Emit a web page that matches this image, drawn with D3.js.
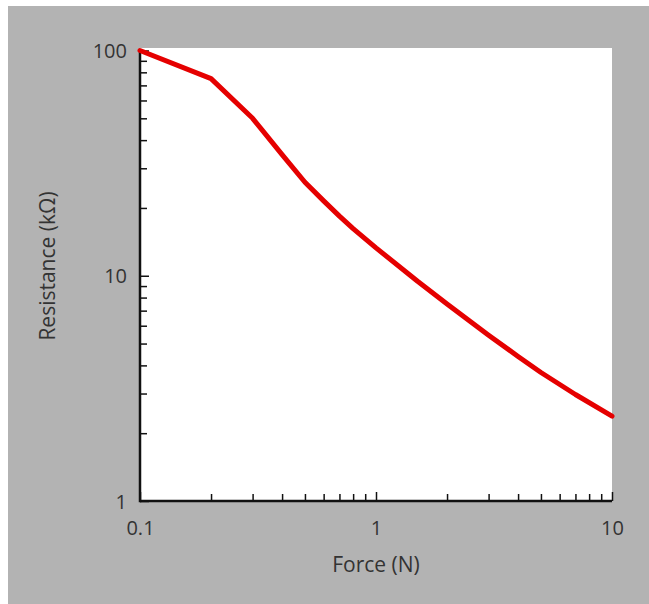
<!DOCTYPE html>
<html>
<head>
<meta charset="utf-8">
<script src="https://cdn.jsdelivr.net/npm/d3@7"></script>
<style>
  html, body { margin: 0; padding: 0; background: #ffffff; }
  svg { display: block; }
  text { font-family: "Open Sans", "Noto Sans", sans-serif; fill: #333; }
</style>
</head>
<body>
<svg id="chart" width="649" height="604"></svg>
<script>
// Data
const force = [0.1, 0.2, 0.3, 0.4, 0.5, 0.6, 0.7, 0.8, 1, 1.5, 2, 3, 4, 5, 7, 10];
const resistance = [100, 75, 50, 34.5, 26, 21.5, 18.4, 16.2, 13.3, 9.45, 7.5, 5.45, 4.38, 3.72, 2.97, 2.38];
const xTickValues = [0.1, 1, 10];
const xTickLabels = ["0.1", "1", "10"];
const yTickValues = [1, 10, 100];
const yTickLabels = ["1", "10", "100"];
const xTitle = "Force (N)";
const yTitle = "Resistance (k\u03A9)";

const svg = d3.select("#chart");
const W = 649, H = 604;

// gray background panel
svg.append("rect").attr("x", 8).attr("y", 6).attr("width", W - 8).attr("height", H - 6).attr("fill", "#b3b3b3");

const left = 140, right = 612, yTop = 50.5, yBottom = 501;

// white plot area
svg.append("rect").attr("x", left).attr("y", 48).attr("width", right - left).attr("height", yBottom - 48).attr("fill", "#ffffff");

const x = d3.scaleLog().domain([0.1, 10]).range([left, right]);
const y = d3.scaleLog().domain([1, 100]).range([yBottom, yTop]);

// minor ticks
const minorX = [];
for (const d of [0.1, 1]) for (let k = 2; k <= 9; k++) minorX.push(d * k);
const minorY = [];
for (const d of [1, 10]) for (let k = 2; k <= 9; k++) minorY.push(d * k);

const gx = svg.append("g").attr("transform", `translate(0,${yBottom})`);
gx.call(d3.axisBottom(x).tickValues(minorX).tickSizeInner(-7).tickSizeOuter(0).tickFormat(""));
gx.call(g => g.select(".domain").remove());
const gxMaj = svg.append("g").attr("transform", `translate(0,${yBottom})`);
gxMaj.call(d3.axisBottom(x).tickValues(xTickValues).tickSizeInner(-9).tickSizeOuter(0)
  .tickFormat((d, i) => xTickLabels[i]));
gxMaj.select(".domain").remove();
gxMaj.selectAll(".tick text").attr("y", 20).attr("dy", "0.71em").style("font-size", "20px").style("fill", "#333");

const gy = svg.append("g").attr("transform", `translate(${left},0)`);
gy.call(d3.axisLeft(y).tickValues(minorY).tickSizeInner(-7).tickSizeOuter(0).tickFormat(""));
gy.select(".domain").remove();
const gyMaj = svg.append("g").attr("transform", `translate(${left},0)`);
gyMaj.call(d3.axisLeft(y).tickValues(yTickValues).tickSizeInner(-9).tickSizeOuter(0)
  .tickFormat((d, i) => yTickLabels[i]));
gyMaj.select(".domain").remove();
gyMaj.selectAll(".tick text").attr("x", -13).attr("dy", "0.35em").style("font-size", "20px").style("fill", "#333");

svg.selectAll(".tick line").attr("stroke", "#111").attr("stroke-width", 1.5);

// axis lines
svg.append("line").attr("x1", left).attr("x2", right).attr("y1", yBottom).attr("y2", yBottom)
  .attr("stroke", "#111").attr("stroke-width", 2.5);
svg.append("line").attr("x1", left).attr("x2", left).attr("y1", yTop).attr("y2", yBottom + 1.2)
  .attr("stroke", "#111").attr("stroke-width", 2.5);

// curve
const line = d3.line().x((d, i) => x(force[i])).y((d, i) => y(resistance[i])).curve(d3.curveLinear);
svg.append("path").datum(resistance).attr("d", line)
  .attr("fill", "none").attr("stroke", "#e50000").attr("stroke-width", 5)
  .attr("stroke-linecap", "round").attr("stroke-linejoin", "round");

// titles
svg.append("text").attr("x", 376).attr("y", 572).attr("text-anchor", "middle")
  .style("font-size", "21px").text(xTitle);
svg.append("text").attr("transform", "translate(55,266) rotate(-90)").attr("text-anchor", "middle")
  .style("font-size", "21px").text(yTitle);
</script>
</body>
</html>
